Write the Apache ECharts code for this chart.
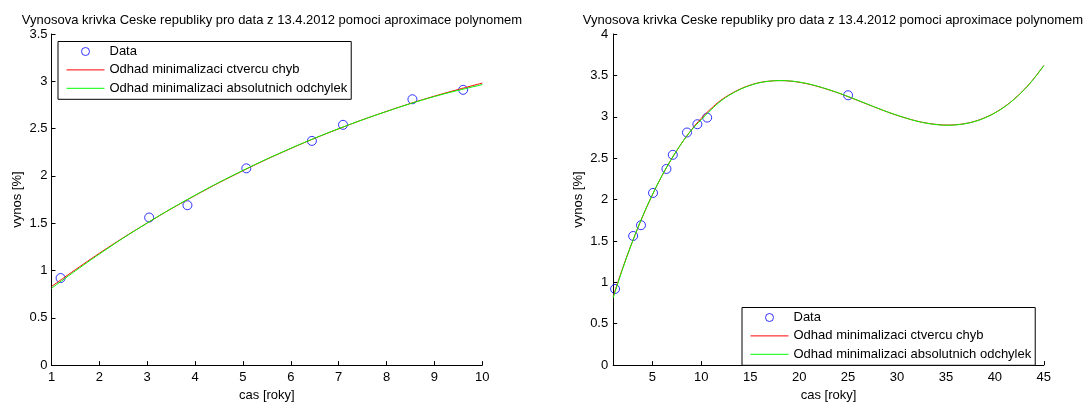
<!DOCTYPE html>
<html>
<head>
<meta charset="utf-8">
<title>Vynosova krivka Ceske republiky</title>
<script src="https://cdn.jsdelivr.net/npm/echarts@6/dist/echarts.min.js"></script>
<style>
  html, body { margin: 0; padding: 0; background: #fff; }
  #chart { width: 1086px; height: 407px; }
</style>
</head>
<body>
<div id="chart"></div>
<script>
// Yield curve data (13.4.2012): maturity in years, yield in %
const dataX = [1.19, 3.04, 3.84, 5.07, 6.44, 7.09, 8.54, 9.60, 10.6, 25.0];
const dataY = [0.92, 1.56, 1.69, 2.08, 2.37, 2.54, 2.81, 2.91, 2.99, 3.26];

// Polynomial approximations sampled along the maturity axis
const curveX = [1, 2, 3, 4, 5, 6, 7, 8, 9, 10, 11, 12, 13, 14, 15, 16, 17, 18, 19, 20,
  21, 22, 23, 24, 25, 26, 27, 28, 29, 30, 31, 32, 33, 34, 35, 36, 37, 38, 39, 40,
  41, 42, 43, 44, 45];
// least squares fit
const curveLsq = [0.830, 1.182, 1.502, 1.793, 2.055, 2.290, 2.498, 2.682, 2.843, 2.981,
  3.098, 3.199, 3.275, 3.336, 3.382, 3.414, 3.431, 3.437, 3.432, 3.417,
  3.394, 3.363, 3.327, 3.287, 3.243, 3.197, 3.150, 3.104, 3.059, 3.018,
  2.981, 2.949, 2.924, 2.908, 2.900, 2.904, 2.919, 2.947, 2.990, 3.048,
  3.123, 3.217, 3.330, 3.464, 3.620];
// least absolute deviations fit
const curveLad = [0.812, 1.174, 1.502, 1.796, 2.058, 2.292, 2.499, 2.681, 2.839, 2.965,
  3.085, 3.190, 3.270, 3.332, 3.379, 3.412, 3.430, 3.437, 3.433, 3.419,
  3.396, 3.365, 3.329, 3.289, 3.245, 3.199, 3.152, 3.105, 3.060, 3.019,
  2.981, 2.948, 2.923, 2.906, 2.898, 2.902, 2.917, 2.945, 2.988, 3.046,
  3.121, 3.215, 3.328, 3.462, 3.618];

const titleText = 'Vynosova krivka Ceske republiky pro data z 13.4.2012 pomoci aproximace polynomem';
const nameData = 'Data';
const nameLsq = 'Odhad minimalizaci ctvercu chyb';
const nameLad = 'Odhad minimalizaci absolutnich odchylek';
const xName = 'cas [roky]';
const yName = 'vynos [%]';
const rightXTicks = [5, 10, 15, 20, 25, 30, 35, 40, 45];

const FONT = '"Liberation Sans", Arial, Helvetica, sans-serif';

function pairs(xs, ys, xmax) {
  const out = [];
  for (let i = 0; i < xs.length; i++) {
    if (xs[i] <= xmax + 1e-9) out.push([xs[i], ys[i]]);
  }
  return out;
}

function axisCommon() {
  return {
    axisLine: { show: true, onZero: false, lineStyle: { color: '#000', width: 1 } },
    axisTick: { show: true, inside: true, length: 4, lineStyle: { color: '#000', width: 1 } },
    splitLine: { show: false },
    axisLabel: { color: '#000', fontSize: 13, fontFamily: FONT },
    nameTextStyle: { color: '#000', fontSize: 13, fontFamily: FONT },
    nameLocation: 'middle'
  };
}

function legendFor(pos) {
  return Object.assign({
    orient: 'vertical',
    backgroundColor: '#fff',
    borderColor: '#000',
    borderWidth: 1,
    borderRadius: 0,
    padding: [3, 4, 4, 8],
    itemGap: 4.4,
    itemWidth: 38,
    itemHeight: 8,
    selectedMode: false,
    lineStyle: { width: 1 },
    textStyle: { color: '#000', fontSize: 13, fontFamily: FONT, lineHeight: 14 },
    data: [
      { name: nameData, icon: 'circle',
        itemStyle: { color: 'rgba(0,0,0,0)', borderColor: '#0000ff', borderWidth: 1 } },
      // line-only keys: the marker part of the icon is hidden
      { name: nameLsq, itemStyle: { opacity: 0 } },
      { name: nameLad, itemStyle: { opacity: 0 } }
    ]
  }, pos);
}

function seriesFor(idx, xmax) {
  return [
    {
      name: nameData, type: 'scatter', xAxisIndex: idx, yAxisIndex: idx,
      symbol: 'circle', symbolSize: 9,
      itemStyle: { color: 'rgba(0,0,0,0)', borderColor: '#0000ff', borderWidth: 1 },
      data: pairs(dataX, dataY, xmax), z: 2
    },
    {
      name: nameLsq, type: 'line', xAxisIndex: idx, yAxisIndex: idx,
      smooth: 0.4, symbol: 'none', showSymbol: false,
      lineStyle: { color: '#ff0000', width: 1, opacity: 1 },
      itemStyle: { color: '#ff0000', opacity: 0 },
      data: pairs(curveX, curveLsq, xmax), z: 3
    },
    {
      name: nameLad, type: 'line', xAxisIndex: idx, yAxisIndex: idx,
      smooth: 0.4, symbol: 'none', showSymbol: false,
      lineStyle: { color: '#00ff00', width: 1, opacity: 1 },
      itemStyle: { color: '#00ff00', opacity: 0 },
      data: pairs(curveX, curveLad, xmax), z: 4
    }
  ];
}

const chart = echarts.init(document.getElementById('chart'), null, { renderer: 'canvas' });

const option = {
  animation: false,
  backgroundColor: '#fff',
  textStyle: { fontFamily: FONT },
  title: [
    { text: titleText, left: 267, top: 9, textAlign: 'center',
      textStyle: { color: '#000', fontSize: 13, fontWeight: 'normal', fontFamily: FONT } },
    { text: titleText, left: 828, top: 9, textAlign: 'center',
      textStyle: { color: '#000', fontSize: 13, fontWeight: 'normal', fontFamily: FONT } }
  ],
  grid: [
    { left: 51.5, top: 34, width: 430.8, height: 339, containLabel: false },
    { left: 613.2, top: 34, width: 430.6, height: 339, containLabel: false }
  ],
  legend: [
    legendFor({ left: 58, top: 41.5 }),
    legendFor({ left: 742, top: 307.5 })
  ],
  xAxis: [
    Object.assign(axisCommon(), {
      type: 'value', gridIndex: 0, min: 1, max: 10, interval: 1,
      name: xName, nameGap: 20
    }),
    Object.assign(axisCommon(), {
      type: 'value', gridIndex: 1, min: 1, max: 45,
      name: xName, nameGap: 20
    })
  ],
  yAxis: [
    Object.assign(axisCommon(), {
      type: 'value', gridIndex: 0, min: 0, max: 3.5, interval: 0.5,
      name: yName, nameGap: 28
    }),
    Object.assign(axisCommon(), {
      type: 'value', gridIndex: 1, min: 0, max: 4, interval: 0.5,
      name: yName, nameGap: 28
    })
  ],
  series: seriesFor(0, 10).concat(seriesFor(1, 45))
};

// label and tick positions
option.xAxis[0].axisLabel.margin = 6;
option.xAxis[1].axisLabel.margin = 6;
option.xAxis[1].axisLabel.customValues = rightXTicks;
option.xAxis[1].axisTick.customValues = rightXTicks;
option.yAxis[0].axisLabel.margin = 4;
option.yAxis[1].axisLabel.margin = 5;

chart.setOption(option);
</script>
</body>
</html>
